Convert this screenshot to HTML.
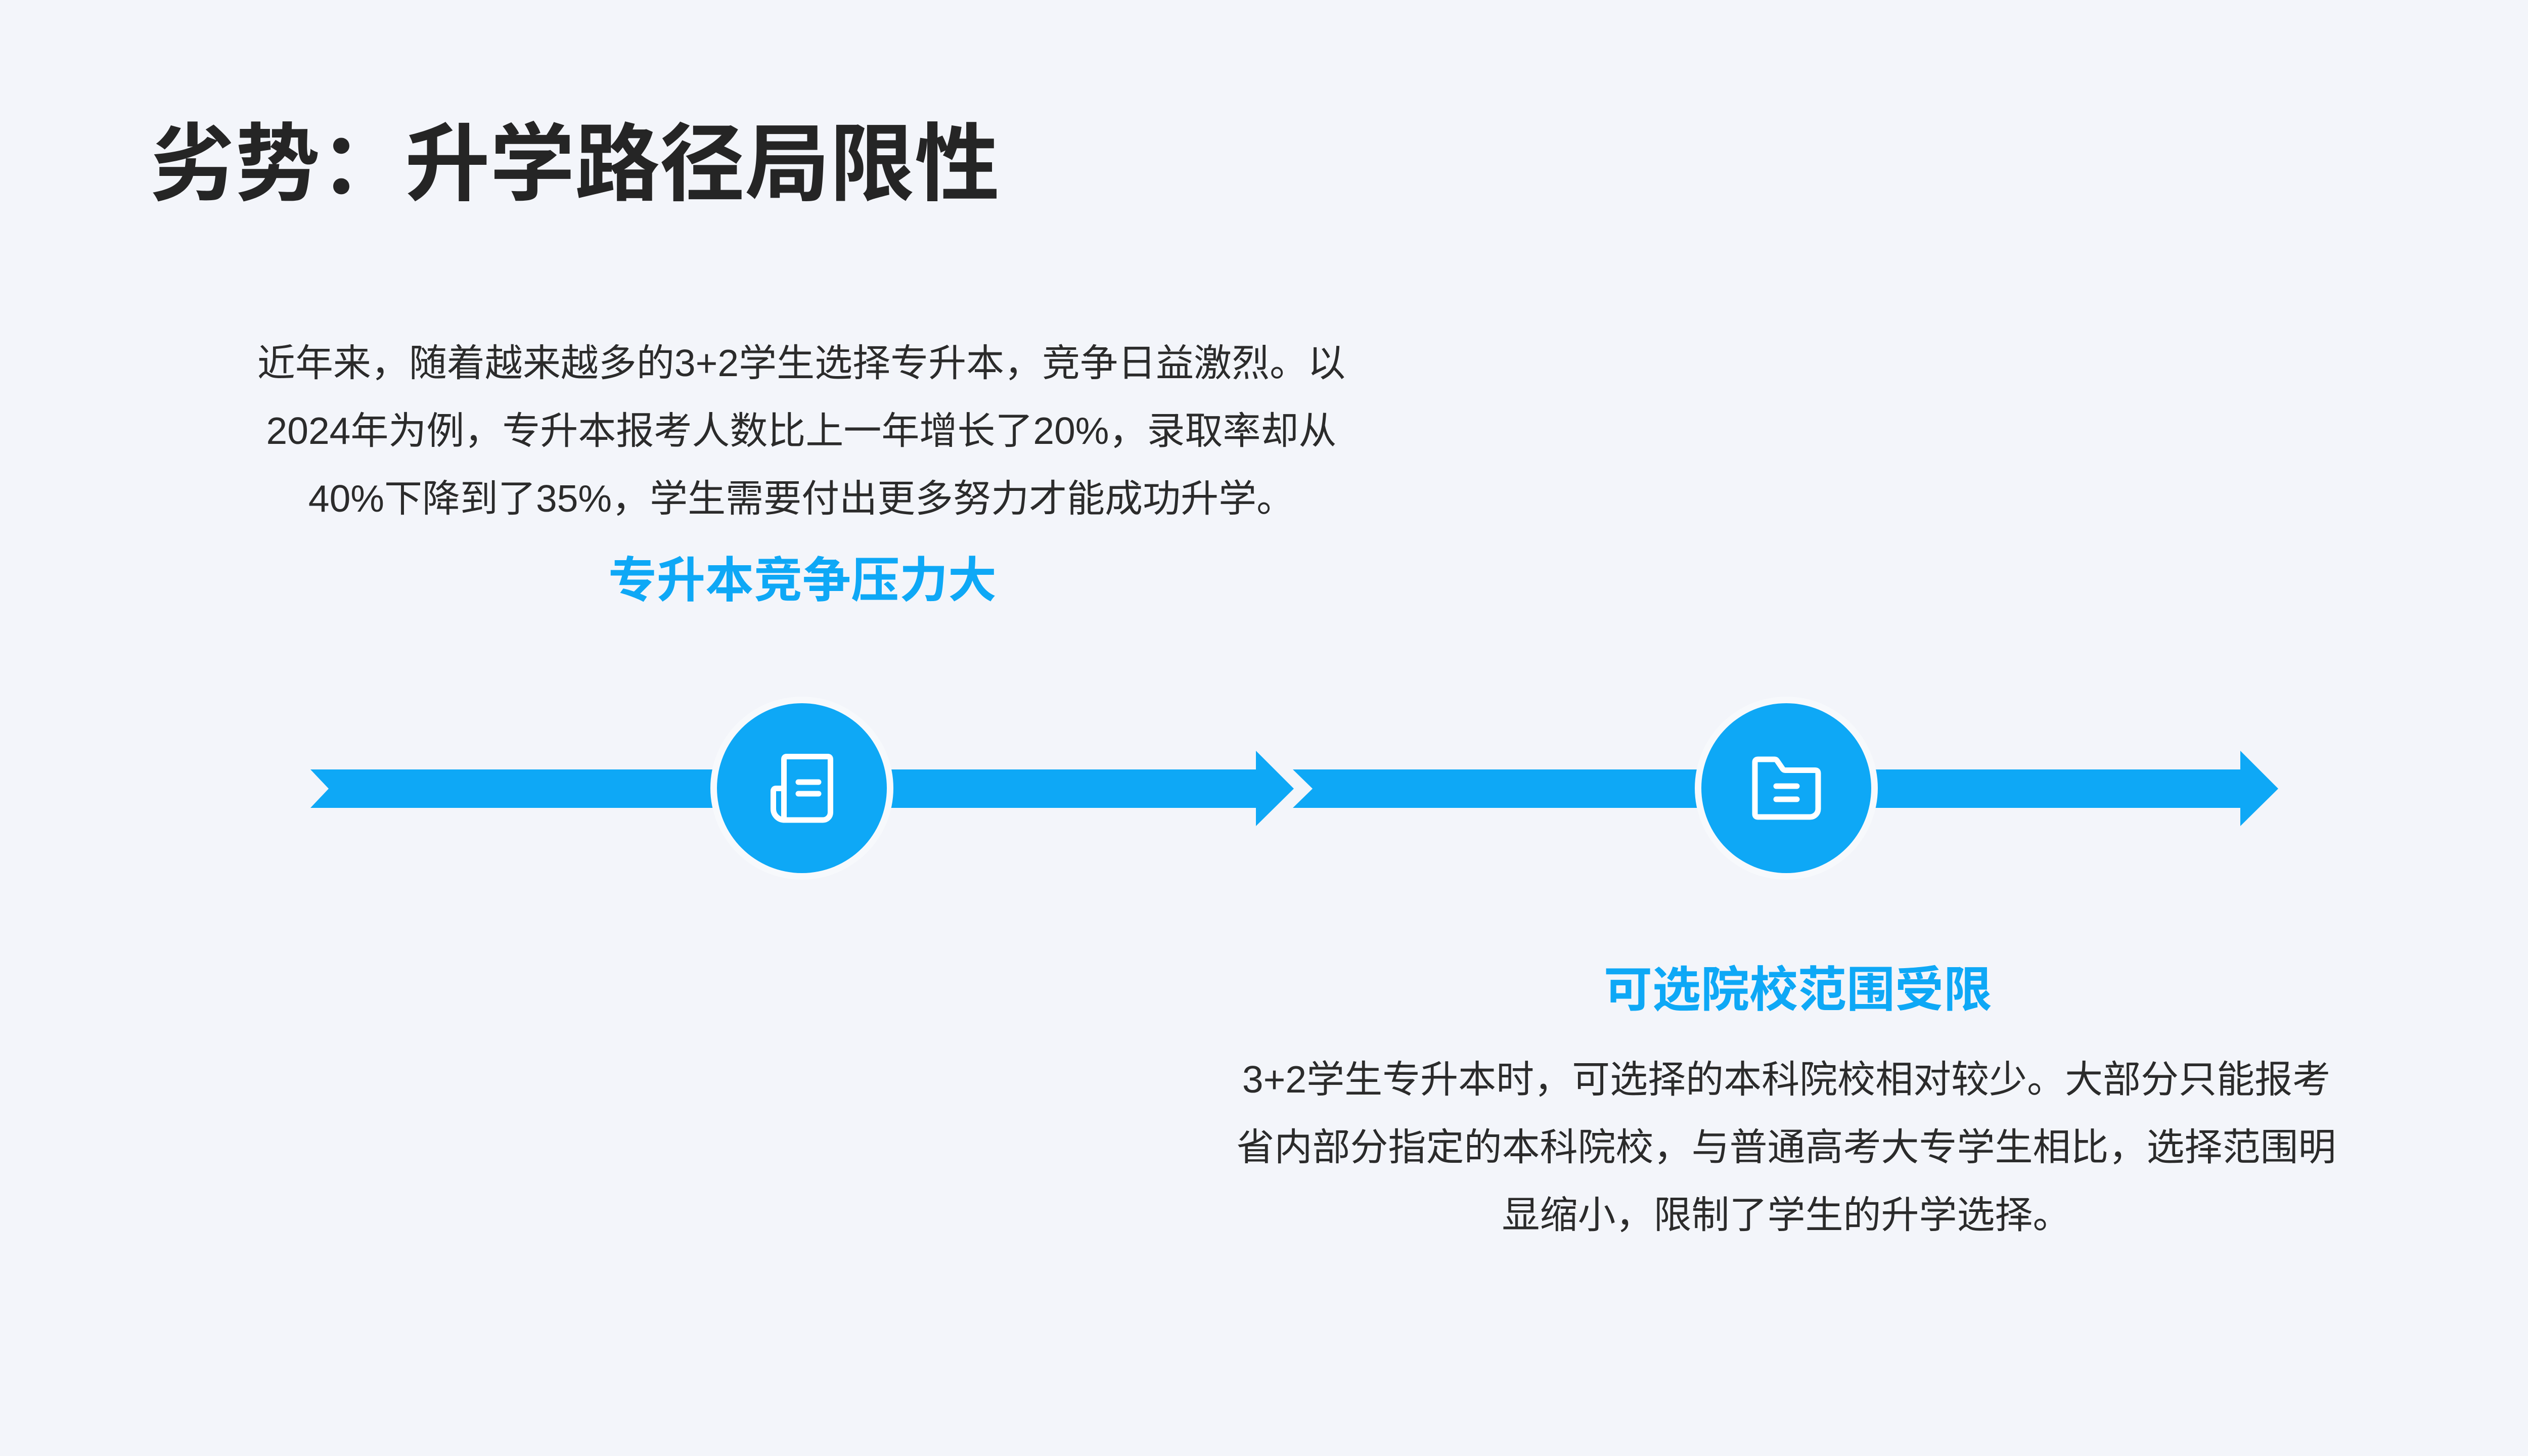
<!DOCTYPE html>
<html><head><meta charset="utf-8"><style>
html,body{margin:0;padding:0;}
body{width:5120px;height:2880px;background:#f3f5fa;position:relative;overflow:hidden;font-family:"Liberation Sans","Noto Sans CJK SC",sans-serif;}
.t{position:absolute;white-space:nowrap;}
.p{color:#2b2b2b;font-size:75px;line-height:134px;text-align:center;width:2600px;}
.h{color:#0ea8f6;font-weight:bold;font-size:96px;text-align:center;width:1400px;line-height:120px;}
</style></head><body>
<svg width="5120" height="2880" style="position:absolute;left:0;top:0">
<g fill="#0ea8f6">
<polygon points="614,1522 1420,1522 1420,1598 614,1598 650,1560"/>
<polygon points="1750,1522 2484,1522 2484,1485 2559,1560 2484,1634 2484,1598 1750,1598"/>
<polygon points="2557,1522 3367,1522 3367,1598 2557,1598 2596,1560"/>
<polygon points="3697,1522 4431,1522 4431,1485 4506,1560 4431,1634 4431,1598 3697,1598"/>
</g>
<circle cx="1586" cy="1559" r="181" fill="#f7f9fc"/>
<circle cx="1586" cy="1559" r="168" fill="#0ea8f6"/>
<circle cx="3533" cy="1559" r="181" fill="#f7f9fc"/>
<circle cx="3533" cy="1559" r="168" fill="#0ea8f6"/>
<g fill="none" stroke="#fff" stroke-width="11" stroke-linecap="round" stroke-linejoin="round">
<path d="M1550.5 1622 V1502 q0-5.5 5.5-5.5 H1637 q5.5 0 5.5 5.5 V1607 a15 15 0 0 1 -15 15 H1550.5"/>
<path d="M1550.5 1559.5 H1535 q-5.5 0 -5.5 5.5 V1600 a22 22 0 0 0 22 22"/>
<path d="M1579 1547 H1619 M1579 1570 H1619"/>
<path d="M3471 1610 V1508 q0-6 6-6 H3510 q3 0 5 3 L3526 1521 q2 2.5 5 2.5 H3590 q6 0 6 6 V1600 a16 16 0 0 1 -16 16 H3477 q-6 0 -6-6 Z"/>
<path d="M3513 1555 H3554 M3513 1581 H3554"/>
</g>
</svg>
<div class="t" style="left:297px;top:225px;font-size:168px;font-weight:bold;color:#252525;line-height:200px;">劣势：升学路径局限性</div>
<div class="t p" style="left:285px;top:651px;">近年来，随着越来越多的3+2学生选择专升本，竞争日益激烈。以<br>2024年为例，专升本报考人数比上一年增长了20%，录取率却从<br>40%下降到了35%，学生需要付出更多努力才能成功升学。</div>
<div class="t h" style="left:887px;top:1089px;">专升本竞争压力大</div>
<div class="t h" style="left:2856px;top:1899px;">可选院校范围受限</div>
<div class="t p" style="left:2233px;top:2068px;">3+2学生专升本时，可选择的本科院校相对较少。大部分只能报考<br>省内部分指定的本科院校，与普通高考大专学生相比，选择范围明<br>显缩小，限制了学生的升学选择。</div>
</body></html>
